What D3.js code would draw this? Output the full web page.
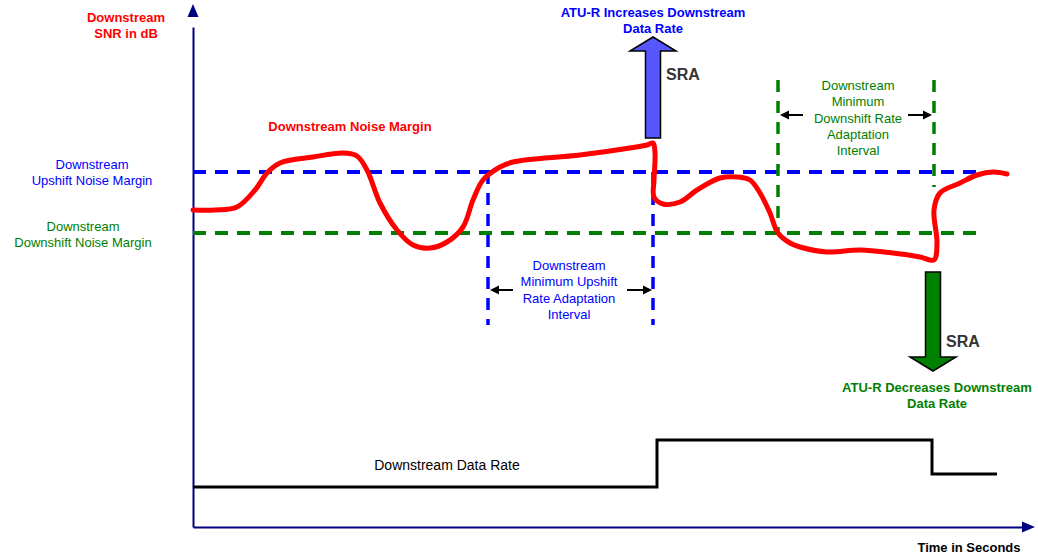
<!DOCTYPE html>
<html>
<head>
<meta charset="utf-8">
<script src="https://cdn.jsdelivr.net/npm/d3@7"></script>
<style>
  body { margin: 0; background: #fff; }
  svg { display: block; font-family: "Liberation Sans", Arial, sans-serif; }
</style>
</head>
<body>
<div id="chart"></div>
<script>
// time (s) and downstream SNR (dB)
var noiseTime = [0, 2.2, 4.4, 6.2, 7.4, 8.7, 12.0, 15.0, 16.4, 17.4, 18.7, 20.4, 22.0, 23.7, 25.4, 27.0, 28.0, 29.0, 30.7, 32.0,
  38.7, 43.7, 45.4, 46.0, 46.2, 46.1, 46.1, 47.0, 48.7, 50.4, 52.7, 54.4, 55.7, 56.7, 57.7, 58.5, 59.7, 60.7, 63.4, 66.7,
  70.0, 72.7, 74.1, 74.4, 74.1, 74.7, 76.7, 78.4, 80.0, 81.4];
var noiseSnr = [31.7, 31.7, 32.0, 33.7, 35.4, 36.4, 37.0, 37.4, 37.1, 35.7, 32.4, 29.7, 28.2, 27.9, 28.5, 30.0, 32.7, 34.7, 36.0, 36.5,
  37.2, 37.9, 38.2, 38.4, 37.4, 34.7, 33.0, 32.3, 32.5, 33.7, 34.9, 35.0, 34.7, 33.4, 31.4, 29.4, 28.4, 28.0, 27.5, 27.7,
  27.4, 27.0, 26.7, 28.4, 31.7, 33.4, 34.4, 35.2, 35.5, 35.3];

// noise margin thresholds (dB) and how far they run (s)
var upshiftMargin = 35.5;
var downshiftMargin = 29.4;
var marginEnd = 79.2;

// data rate steps (time s, rate in same plot units)
var rateTime = [0, 46.4, 73.9, 80.4];
var rateValue = [4.0, 8.7, 5.3, 5.3];

// adaptation intervals: [start, end] in s, [low, high] in dB
var upInterval = [29.5, 46.0], upIntervalSnr = [20.2, 35.5];
var downInterval = [58.5, 74.1], downIntervalSnr = [29.4, 44.7], downRightLow = 34.0;

// SRA events: time, arrow from/to (dB)
var sraUp = { t: 46.0, from: 38.9, to: 49.0 };
var sraDown = { t: 74.0, from: 25.5, to: 15.6 };

var W = 1038, H = 556;
var x = d3.scaleLinear().domain([0, 84.2]).range([193, 1035]);
var y = d3.scaleLinear().domain([0, 52.2]).range([527, 5]);

var svg = d3.select("#chart").append("svg").attr("width", W).attr("height", H);

// axes
var xAxis = svg.append("g").attr("transform", "translate(0," + y(0) + ")")
  .call(d3.axisBottom(d3.scaleLinear().domain([0, 83]).range([x(0), x(83)])).tickValues([]).tickSizeOuter(0));
var yAxis = svg.append("g").attr("transform", "translate(" + x(0) + ",0)")
  .call(d3.axisLeft(d3.scaleLinear().domain([0, 50]).range([y(0), y(50)])).tickValues([]).tickSizeOuter(0));
svg.selectAll(".domain").attr("stroke", "#000080").attr("stroke-width", 2);
svg.append("path").attr("fill", "#000080")
  .attr("d", "M" + x(84.2) + "," + y(0) + "l-13,-5.5l0,11z");
svg.append("path").attr("fill", "#000080")
  .attr("d", "M" + x(0) + "," + (y(52.2) - 1) + "l-5.5,13l11,0z");

// thresholds
function hDash(val, color) {
  svg.append("line").attr("x1", x(0)).attr("x2", x(marginEnd))
    .attr("y1", y(val)).attr("y2", y(val))
    .attr("stroke", color).attr("stroke-width", 4).attr("stroke-dasharray", "13,9");
}
hDash(upshiftMargin, "#0000ff");
hDash(downshiftMargin, "#008000");

function vDash(t, a, b, color) {
  svg.append("line").attr("x1", x(t)).attr("x2", x(t))
    .attr("y1", y(a)).attr("y2", y(b))
    .attr("stroke", color).attr("stroke-width", 3.5).attr("stroke-dasharray", "12,9");
}
vDash(upInterval[0], upIntervalSnr[1], upIntervalSnr[0], "#0000ff");
vDash(upInterval[1], upIntervalSnr[1], upIntervalSnr[0], "#0000ff");
vDash(downInterval[0], downIntervalSnr[1], downIntervalSnr[0], "#008000");
vDash(downInterval[1], downIntervalSnr[1], downRightLow, "#008000");

// small black arrows
function smallArrow(x1, x2, yy) {
  var dir = x2 > x1 ? 1 : -1;
  svg.append("line").attr("x1", x1).attr("x2", x2 - dir * 6).attr("y1", yy).attr("y2", yy)
    .attr("stroke", "#000").attr("stroke-width", 2);
  svg.append("path").attr("fill", "#000")
    .attr("d", "M" + x2 + "," + yy + "l" + (-dir * 9) + ",-4.5l0,9z");
}
var upArrowY = y(23.7);
smallArrow(x(upInterval[0]) + 25, x(upInterval[0]) + 2, upArrowY);
smallArrow(x(upInterval[1]) - 26, x(upInterval[1]) - 1, upArrowY);
var downArrowY = y(41.2);
smallArrow(x(downInterval[0]) + 25, x(downInterval[0]) + 2, downArrowY);
smallArrow(x(downInterval[1]) - 26, x(downInterval[1]) - 2, downArrowY);

// noise margin curve
var noisePts = noiseTime.map(function (t, i) { return [t, noiseSnr[i]]; });
svg.append("path").datum(noisePts)
  .attr("fill", "none").attr("stroke", "#ff0000").attr("stroke-width", 5)
  .attr("stroke-linecap", "round").attr("stroke-linejoin", "round")
  .attr("d", d3.line().x(function (d) { return x(d[0]); }).y(function (d) { return y(d[1]); })
    .curve(d3.curveCatmullRom.alpha(0.5)));

// data rate
var ratePts = rateTime.map(function (t, i) { return [t, rateValue[i]]; });
svg.append("path").datum(ratePts)
  .attr("fill", "none").attr("stroke", "#000").attr("stroke-width", 3)
  .attr("d", d3.line().x(function (d) { return x(d[0]); }).y(function (d) { return y(d[1]); })
    .curve(d3.curveStepAfter));

// block arrows
function blockArrow(ev, fill) {
  var cx = x(ev.t), y0 = y(ev.from), y1 = y(ev.to);
  var dir = y1 < y0 ? -1 : 1;
  var headLen = 14, sw = 7.5, hw = 23;
  var yb = y1 - dir * headLen;
  var d = "M" + (cx - sw) + "," + y0 + "L" + (cx - sw) + "," + yb + "L" + (cx - hw) + "," + yb +
    "L" + cx + "," + y1 + "L" + (cx + hw) + "," + yb + "L" + (cx + sw) + "," + yb + "L" + (cx + sw) + "," + y0 + "Z";
  svg.append("path").attr("d", d).attr("fill", fill).attr("stroke", "#000").attr("stroke-width", 1.5);
}
blockArrow(sraUp, "#5757ff");
blockArrow(sraDown, "#008000");

// text
function label(tx, ty, lines, color, size, weight, lh) {
  var t = svg.append("text").attr("text-anchor", "middle").attr("fill", color)
    .attr("font-size", size).attr("font-weight", weight || "normal");
  lines.forEach(function (s, i) {
    t.append("tspan").attr("x", tx).attr("y", ty + i * (lh || 16)).text(s);
  });
}
label(126, 22, ["Downstream", "SNR in dB"], "#ff0000", 13, "bold");
label(92, 169, ["Downstream", "Upshift Noise Margin"], "#0000ff", 13, "normal", 16);
label(83, 231, ["Downstream", "Downshift Noise Margin"], "#008000", 13, "normal", 15.5);
label(350, 131, ["Downstream Noise Margin"], "#ff0000", 13, "bold");
label(653, 17, ["ATU-R Increases Downstream", "Data Rate"], "#0000ff", 13, "bold");
label(937, 392, ["ATU-R Decreases Downstream", "Data Rate"], "#008000", 13, "bold");
label(569, 270, ["Downstream", "Minimum Upshift", "Rate Adaptation", "Interval"], "#0000ff", 13, "normal", 16.3);
label(858, 90, ["Downstream", "Minimum", "Downshift Rate", "Adaptation", "Interval"], "#008000", 13, "normal", 16.3);
label(447, 470, ["Downstream Data Rate"], "#000", 14, "normal");
label(969, 552, ["Time in Seconds"], "#000", 13, "bold");
svg.append("text").attr("x", 666).attr("y", 80).attr("fill", "#333").attr("font-size", 16).attr("font-weight", "bold").text("SRA");
svg.append("text").attr("x", 946).attr("y", 347).attr("fill", "#333").attr("font-size", 16).attr("font-weight", "bold").text("SRA");
</script>
</body>
</html>
